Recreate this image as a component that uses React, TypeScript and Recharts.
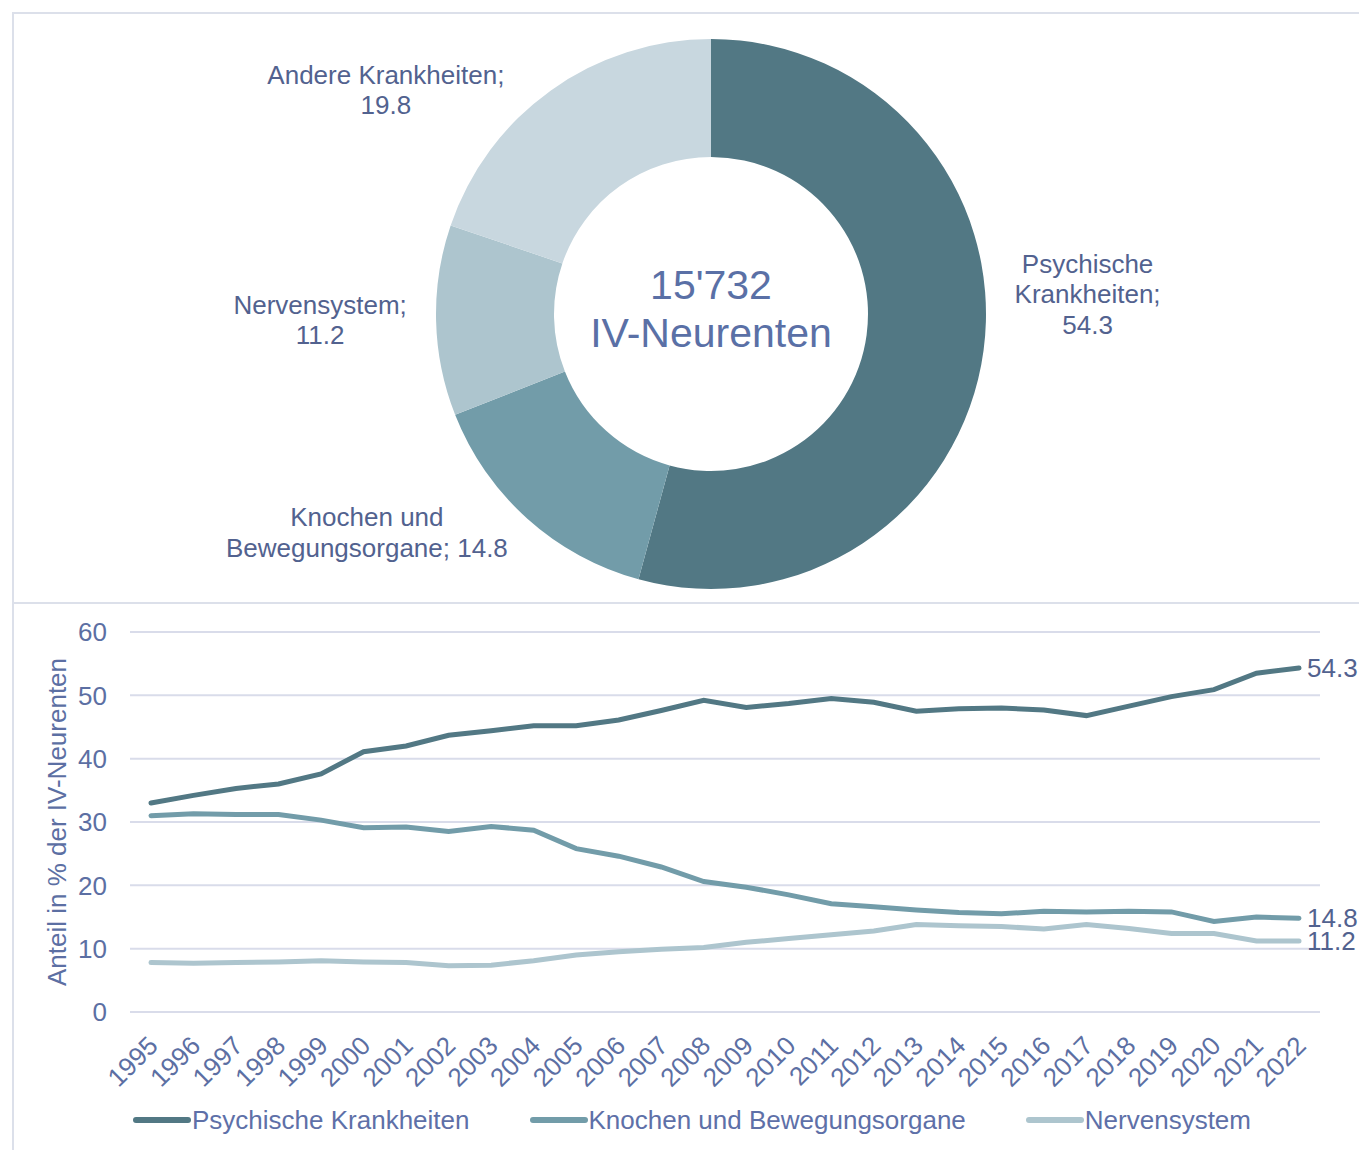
import React from "react";
import { PieChart, Pie, Cell, LineChart, Line, XAxis, YAxis, CartesianGrid, Legend } from "recharts";

// ── Donut: Verteilung der IV-Neurenten 2022 nach Gebrechen ──────────────────
const PIE_NAMES = ["Psychische Krankheiten", "Knochen und Bewegungsorgane", "Nervensystem", "Andere Krankheiten"];
const PIE_VALUES = [54.3, 14.8, 11.2, 19.8];
const PIE_LABELS = [
  ["Psychische", "Krankheiten;", "54.3"],
  ["Knochen und", "Bewegungsorgane; 14.8"],
  ["Nervensystem;", "11.2"],
  ["Andere Krankheiten;", "19.8"],
];
const TOTAL_TEXT = ["15'732", "IV-Neurenten"];

// ── Linien: Anteil in % 1995–2022 ───────────────────────────────────────────
const YEARS = ["1995", "1996", "1997", "1998", "1999", "2000", "2001", "2002", "2003", "2004", "2005", "2006", "2007", "2008",
  "2009", "2010", "2011", "2012", "2013", "2014", "2015", "2016", "2017", "2018", "2019", "2020", "2021", "2022"];
const PSYCH = [33.0, 34.2, 35.3, 36.0, 37.6, 41.1, 42.0, 43.7, 44.4, 45.2, 45.2, 46.1, 47.6, 49.2,
  48.1, 48.7, 49.5, 48.9, 47.5, 47.9, 48.0, 47.7, 46.8, 48.3, 49.8, 50.9, 53.5, 54.3];
const KNOCHEN = [31.0, 31.3, 31.2, 31.2, 30.3, 29.1, 29.2, 28.5, 29.3, 28.7, 25.8, 24.6, 22.9, 20.6,
  19.7, 18.5, 17.1, 16.6, 16.1, 15.7, 15.5, 15.9, 15.8, 15.9, 15.8, 14.3, 15.0, 14.8];
const NERVEN = [7.8, 7.7, 7.8, 7.9, 8.1, 7.9, 7.8, 7.3, 7.4, 8.1, 9.0, 9.5, 9.9, 10.2,
  11.0, 11.6, 12.2, 12.8, 13.8, 13.6, 13.5, 13.1, 13.8, 13.2, 12.4, 12.4, 11.2, 11.2];
const SERIES = ["Psychische Krankheiten", "Knochen und Bewegungsorgane", "Nervensystem"];
const Y_TICKS = [0, 10, 20, 30, 40, 50, 60];
const Y_TITLE = "Anteil in % der IV-Neurenten";

const C_DARK = "#527884";
const C_MID = "#729CA9";
const C_LIGHT = "#ADC5CE";
const C_PALE = "#C8D7DF";
const PIE_COLORS = [C_DARK, C_MID, C_LIGHT, C_PALE];
const TXT = "#52628F";
const TXT_AX = "#5C6FA3";
const GRID = "#D9DCEA";
const FONT = "'Liberation Sans', Arial, sans-serif";

const lineData = YEARS.map((year, i) => ({
  year,
  [SERIES[0]]: PSYCH[i],
  [SERIES[1]]: KNOCHEN[i],
  [SERIES[2]]: NERVEN[i],
}));
const pieData = PIE_NAMES.map((name, i) => ({ name, value: PIE_VALUES[i] }));

const RAD = Math.PI / 180;
// Excel-Beschriftungen sitzen nicht exakt radial -> kleine Verschiebung je Segment
const NUDGE = [[-5, -71], [-87, -68], [-6, -3], [-101, 89]];

function PieLabel(props: any) {
  const { cx, cy, midAngle, outerRadius, index } = props;
  const r = outerRadius + 110;
  const x = cx + r * Math.cos(-midAngle * RAD) + NUDGE[index][0];
  const y = cy + r * Math.sin(-midAngle * RAD) + NUDGE[index][1];
  const lines = PIE_LABELS[index];
  const lh = 30.5;
  const y0 = y - ((lines.length - 1) * lh) / 2;
  return (
    <g>
      <text textAnchor="middle" fill={TXT} fontSize={26} fontFamily={FONT}>
        {lines.map((l, k) => (
          <tspan key={k} x={x} y={y0 + k * lh} dominantBaseline="central">{l}</tspan>
        ))}
      </text>
      {index === 0 && (
        <>
          <text x={cx} y={cy - 29} textAnchor="middle" dominantBaseline="central" fill="#5A70A6" fontSize={41} fontFamily={FONT}>
            {TOTAL_TEXT[0]}
          </text>
          <text x={cx} y={cy + 19} textAnchor="middle" dominantBaseline="central" fill="#5A70A6" fontSize={41} fontFamily={FONT}>
            {TOTAL_TEXT[1]}
          </text>
        </>
      )}
    </g>
  );
}

function YearTick(props: any) {
  const { x, y, payload } = props;
  const tx = x + 2;
  const ty = y + 21;
  return (
    <text x={tx} y={ty} transform={`rotate(-45, ${tx}, ${ty})`} textAnchor="end" dominantBaseline="central"
      fill={TXT_AX} fontSize={26} fontFamily={FONT}>
      {payload.value}
    </text>
  );
}

function YTitle(props: any) {
  const vb = props.viewBox;
  const x = vb.x + 17;
  const y = vb.y + vb.height / 2;
  return (
    <text x={x} y={y} transform={`rotate(-90, ${x}, ${y})`} textAnchor="middle" dominantBaseline="central"
      fill={TXT_AX} fontSize={26} fontFamily={FONT}>
      {Y_TITLE}
    </text>
  );
}

const endLabel = (props: any) => {
  const { x, y, index, value } = props;
  if (index !== YEARS.length - 1) return null;
  return (
    <text x={x + 8} y={y} dominantBaseline="central" fill={TXT} fontSize={26} fontFamily={FONT}>
      {Number(value).toFixed(1)}
    </text>
  );
};

function LegendContent(props: any) {
  const items = [...(props.payload || [])].sort(
    (a: any, b: any) => SERIES.indexOf(a.value) - SERIES.indexOf(b.value)
  );
  return (
    <div style={{ display: "flex", justifyContent: "center", gap: 60, height: 36, alignItems: "center", paddingLeft: 24 }}>
      {items.map((p: any) => (
        <div key={p.value} style={{ display: "flex", alignItems: "center" }}>
          <svg width={58} height={10} style={{ marginRight: 1 }}>
            <line x1={3} y1={5} x2={55} y2={5} stroke={p.color} strokeWidth={6} strokeLinecap="round" />
          </svg>
          <span style={{ color: "#5E70A8", fontSize: 26, fontFamily: FONT }}>{p.value}</span>
        </div>
      ))}
    </div>
  );
}

export default function App() {
  return (
    <div style={{ position: "absolute", left: 0, top: 0, width: 1359, height: 1150, background: "#fff", fontFamily: FONT, overflow: "hidden" }}>
      {/* Rahmen */}
      <div style={{ position: "absolute", left: 12, top: 12, width: 1400, height: 1200, border: `2px solid #DCE0EA`, boxSizing: "border-box" }} />
      <div style={{ position: "absolute", left: 12, top: 602, width: 1400, height: 2, background: "#DCE0EA" }} />

      <div style={{ position: "absolute", left: 0, top: 0 }}>
        <PieChart width={1359} height={600} margin={{ top: 0, right: 0, bottom: 0, left: 0 }}>
          <Pie data={pieData} dataKey="value" nameKey="name" cx={711} cy={314} innerRadius={157} outerRadius={275}
            startAngle={90} endAngle={-270} stroke="none" label={PieLabel} labelLine={false} isAnimationActive={false}>
            {pieData.map((d, i) => (
              <Cell key={d.name} fill={PIE_COLORS[i]} />
            ))}
          </Pie>
        </PieChart>
      </div>

      <div style={{ position: "absolute", left: 0, top: 603 }}>
        <LineChart width={1359} height={547} data={lineData} margin={{ top: 29, right: 39, left: 40, bottom: 12 }}>
          <CartesianGrid vertical={false} stroke={GRID} strokeWidth={2} />
          <XAxis dataKey="year" interval={0} tickLine={false} axisLine={{ stroke: GRID, strokeWidth: 2 }}
            padding={{ left: 21, right: 21 }} tick={<YearTick />} height={90} />
          <YAxis domain={[0, 60]} ticks={Y_TICKS} width={90} tickLine={false} axisLine={false} tickSize={0} tickMargin={23}
            tick={{ fill: TXT_AX, fontSize: 26, fontFamily: FONT }} label={<YTitle />} />
          <Legend verticalAlign="bottom" content={<LegendContent />} />
          {SERIES.map((s, i) => (
            <Line key={s} dataKey={s} stroke={PIE_COLORS[i]} strokeWidth={5} dot={false} strokeLinecap="round"
              isAnimationActive={false} label={endLabel} />
          ))}
        </LineChart>
      </div>
    </div>
  );
}
